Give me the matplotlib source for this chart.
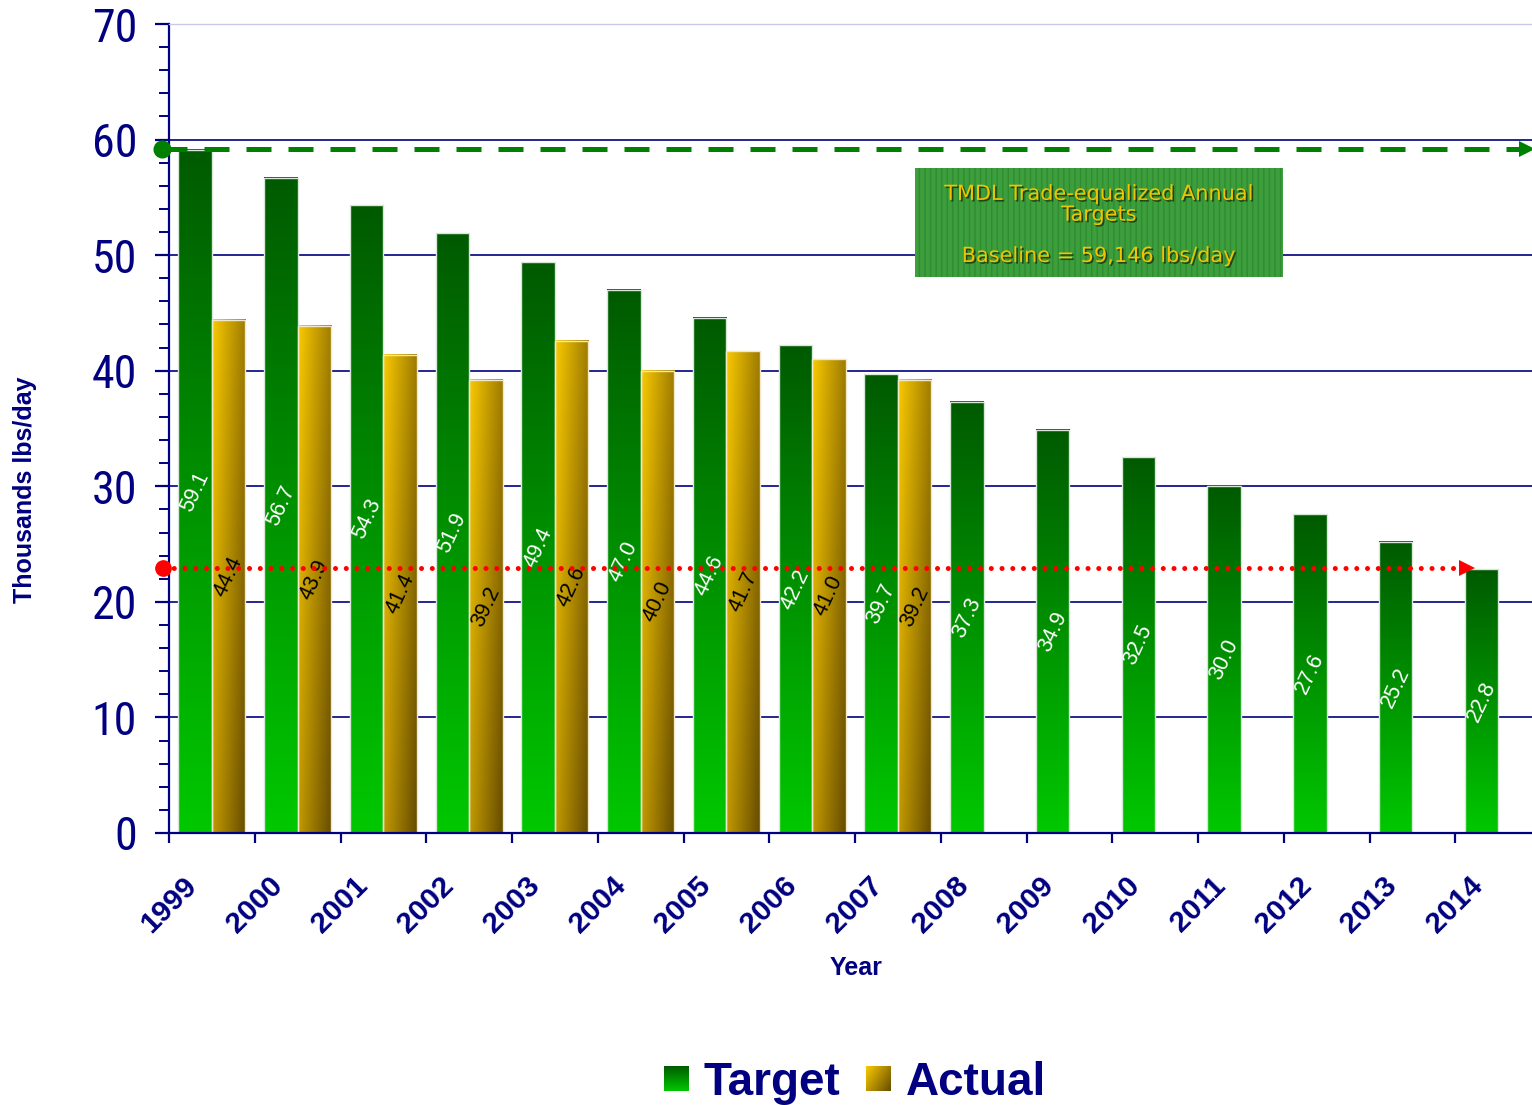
import numpy as np
import matplotlib
matplotlib.use("Agg")
import matplotlib.pyplot as plt
import matplotlib.patheffects as pe
from matplotlib.patches import Rectangle
from matplotlib import font_manager as fm

# ---------------- data ----------------
years = ["1999", "2000", "2001", "2002", "2003", "2004", "2005", "2006",
         "2007", "2008", "2009", "2010", "2011", "2012", "2013", "2014"]
target = [59.1, 56.7, 54.3, 51.9, 49.4, 47.0, 44.6, 42.2,
          39.7, 37.3, 34.9, 32.5, 30.0, 27.6, 25.2, 22.8]
actual = [44.4, 43.9, 41.4, 39.2, 42.6, 40.0, 41.7, 41.0, 39.2]
baseline = 59.146
final_target_line = 22.9
y_ticks = [0, 10, 20, 30, 40, 50, 60, 70]

NAVY = "#000080"


def narrow_font(size):
    """Find a narrow sans font if installed."""
    entries = fm.fontManager.ttflist
    for name in ["Liberation Sans Narrow", "Arial Narrow", "Roboto Condensed",
                 "Open Sans Condensed", "Noto Sans Condensed"]:
        for f in entries:
            if f.name == name and f.style == "normal" and f.weight in (400, "normal", "regular"):
                return fm.FontProperties(fname=f.fname, size=size)
    for name in ["Liberation Sans", "Noto Sans", "Open Sans", "Roboto", "DejaVu Sans"]:
        for f in entries:
            st = str(f.stretch).lower()
            if f.name == name and f.style == "normal" and ("condensed" in st or st in ("semi-condensed", "extra-condensed")) \
                    and f.weight in (400, "normal", "regular"):
                return fm.FontProperties(fname=f.fname, size=size)
    return fm.FontProperties(family="Liberation Sans", size=size)


W, H = 1532, 1105
fig = plt.figure(figsize=(W / 100, H / 100), dpi=100)
ax = fig.add_axes([169 / W, (H - 833) / H, (W - 169) / W, (833 - 24) / H])

XMAX = (W - 169) / 85.75
ax.set_xlim(0, XMAX)
ax.set_ylim(0, 70)

n = len(years)
xs = np.arange(n)
bw = 0.39
tb = ax.bar(xs + 0.5 - bw / 2, target, width=bw, facecolor="none",
            edgecolor="#d8e8d8", linewidth=1.0, zorder=2.5)
ab = ax.bar(np.arange(len(actual)) + 0.5 + bw / 2, actual, width=bw,
            facecolor="none", edgecolor="#f0e8c8", linewidth=1.0, zorder=2.5)

# gradients
top_g = np.array([0x00, 0x5a, 0x00]) / 255
bot_g = np.array([0x00, 0xc8, 0x00]) / 255
tg = np.linspace(0, 1, 200)[:, None, None]
grad_t = top_g * (1 - tg) + bot_g * tg
light_y = np.array([0xfa, 0xca, 0x00]) / 255
dark_y = np.array([0x66, 0x4c, 0x00]) / 255
yy, xx = np.mgrid[0:1:200j, 0:1:60j]
tt = np.clip(0.62 * xx + 0.38 * yy, 0, 1)[:, :, None]
grad_a = light_y * (1 - tt) + dark_y * tt

for p in tb.patches:
    x0, w, h = p.get_x(), p.get_width(), p.get_height()
    ax.imshow(grad_t, extent=[x0, x0 + w, 0, h], aspect="auto",
              origin="upper", interpolation="bilinear", zorder=2)
for p in ab.patches:
    x0, w, h = p.get_x(), p.get_width(), p.get_height()
    ax.imshow(grad_a, extent=[x0, x0 + w, 0, h], aspect="auto",
              origin="upper", interpolation="bilinear", zorder=2)
ax.set_xlim(0, XMAX)
ax.set_ylim(0, 70)

# value labels
for p, v in zip(tb.patches, target):
    ax.text(p.get_x() + p.get_width() / 2, v / 2, f"{v:.1f}", rotation=65,
            ha="center", va="center", color="white", fontsize=15.5,
            family=["Liberation Sans", "DejaVu Sans"], zorder=3)
for p, v in zip(ab.patches, actual):
    ax.text(p.get_x() + p.get_width() / 2, v / 2, f"{v:.1f}", rotation=65,
            ha="center", va="center", color="black", fontsize=15.5,
            family=["Liberation Sans", "DejaVu Sans"], zorder=3)

# axes styling
ax.spines["right"].set_visible(False)
ax.spines["top"].set_color("#c8c8e8")
ax.spines["top"].set_linewidth(1.0)
ax.spines["left"].set_color(NAVY)
ax.spines["left"].set_linewidth(1.6)
ax.spines["bottom"].set_color(NAVY)
ax.spines["bottom"].set_linewidth(1.6)

ax.set_yticks(y_ticks)
ax.set_yticks(np.arange(0, 71, 2), minor=True)
ax.set_yticklabels([str(t) for t in y_ticks])
ax.tick_params(axis="y", which="major", length=10, width=1.6, color=NAVY,
               labelcolor=NAVY, pad=13)
ax.tick_params(axis="y", which="minor", length=7.5, width=1.4, color=NAVY)
yfp = narrow_font(33)
for lab in ax.get_yticklabels():
    lab.set_fontproperties(yfp)

ax.set_xticks(np.arange(n))
ax.set_xticklabels([])
ax.tick_params(axis="x", which="major", length=7, width=1.6, color=NAVY)
for i, yr in enumerate(years):
    ax.text(i + 0.27, -4.2, yr, rotation=45, rotation_mode="anchor",
            ha="right", va="center", color=NAVY, fontsize=21.5,
            fontweight="bold", family=["Liberation Sans", "DejaVu Sans"],
            clip_on=False)

ax.yaxis.grid(True, color=NAVY, linewidth=1.2, zorder=0.5)
ax.set_axisbelow(True)
gls = ax.yaxis.get_gridlines()
gls[-1].set_visible(False)
gls[0].set_visible(False)

# baseline dashed line
ax.plot([-0.08, 15.80], [baseline, baseline], color="#008000", lw=3.6,
        linestyle=(0, (5.0, 3.4)), zorder=4, clip_on=False)
ax.plot([-0.08], [baseline], marker="o", ms=12, color="#008000", zorder=4.5,
        clip_on=False)
ax.plot([15.84], [baseline], marker=">", ms=11, color="#008000",
        markeredgewidth=0, zorder=4.5, clip_on=False)

# red dotted line
ax.plot([-0.07, 15.10], [final_target_line, final_target_line], color="red",
        lw=3.6, linestyle=(0, (0.01, 2.14)), dash_capstyle="round",
        zorder=4, clip_on=False)
ax.plot([-0.07], [final_target_line], marker="o", ms=11, color="red",
        zorder=4.5, clip_on=False)
ax.plot([15.14], [final_target_line], marker=">", ms=12, color="red",
        markeredgewidth=0, zorder=4.5, clip_on=False)

# annotation box
box = Rectangle((8.70, 48.11), 4.29, 9.43, facecolor="#3d9e3d",
                edgecolor="#2f8c2f", linewidth=0, hatch="|||", zorder=5)
ax.add_patch(box)
shadow = [pe.withSimplePatchShadow(offset=(1.2, -1.2),
                                   shadow_rgbFace="#1c3c10", alpha=0.9)]
ax.text(10.845, 54.4, "TMDL Trade-equalized Annual\nTargets", ha="center",
        va="center", color="#f0c400", fontsize=15, linespacing=1.05,
        family=["DejaVu Sans"], zorder=6, path_effects=shadow)
ax.text(10.845, 49.93, "Baseline = 59,146 lbs/day", ha="center",
        va="center", color="#f0c400", fontsize=15,
        family=["DejaVu Sans"], zorder=6, path_effects=shadow)

# axis titles
fig.text(25 / W, 1 - 490 / H, "Thousands lbs/day", rotation=90, ha="center",
         va="center", color=NAVY, fontsize=18, fontweight="bold",
         family=["Liberation Sans", "DejaVu Sans"])
fig.text(856 / W, 1 - 968 / H, "Year", ha="center", va="center",
         color=NAVY, fontsize=18, fontweight="bold",
         family=["Liberation Sans", "DejaVu Sans"])

# legend (manual, gradient swatches)
lt = fig.add_axes([664 / W, 1 - 1091 / H, 25 / W, 25 / H])
lt.imshow(grad_t, aspect="auto", origin="upper", interpolation="bilinear")
lt.axis("off")
la = fig.add_axes([866 / W, 1 - 1091 / H, 25 / W, 25 / H])
la.imshow(grad_a, aspect="auto", origin="upper", interpolation="bilinear")
la.axis("off")
fig.text(703 / W, 1 - 1095 / H, "Target", ha="left", va="baseline",
         color=NAVY, fontsize=33, fontweight="bold",
         family=["Liberation Sans", "DejaVu Sans"])
fig.text(906 / W, 1 - 1095 / H, "Actual", ha="left", va="baseline",
         color=NAVY, fontsize=33, fontweight="bold",
         family=["Liberation Sans", "DejaVu Sans"])

fig.savefig("out.png", dpi=100, facecolor="white")
